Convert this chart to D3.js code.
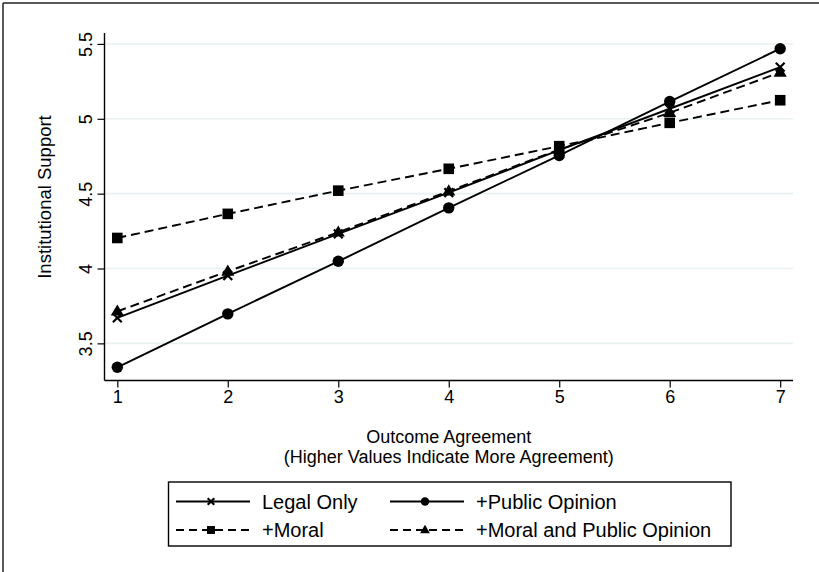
<!DOCTYPE html>
<html>
<head>
<meta charset="utf-8">
<script src="https://cdn.jsdelivr.net/npm/d3@7"></script>
<style>
  body { margin: 0; background: #fff; }
  text { font-family: "Liberation Sans", Arial, Helvetica, sans-serif; fill: #000; }
</style>
</head>
<body>
<svg id="chart" width="819" height="572"></svg>
<script>
// Outcome agreement levels (x axis)
const agreement = [1, 2, 3, 4, 5, 6, 7];

// Predicted institutional support for each model
const legalOnly        = [3.67, 3.953, 4.231, 4.507, 4.79, 5.067, 5.345];
const publicOpinion    = [3.34, 3.697, 4.048, 4.405, 4.755, 5.115, 5.468];
const moral            = [4.204, 4.365, 4.52, 4.666, 4.817, 4.973, 5.124];
const moralAndPublic   = [3.714, 3.981, 4.242, 4.516, 4.795, 5.04, 5.31];

const seriesNames = ["Legal Only", "+Public Opinion", "+Moral", "+Moral and Public Opinion"];
const yTickValues = [3.5, 4, 4.5, 5, 5.5];
const xTickValues = [1, 2, 3, 4, 5, 6, 7];

const xTitle = ["Outcome Agreement", "(Higher Values Indicate More Agreement)"];
const yTitle = "Institutional Support";

const series = [
  { name: seriesNames[0], values: legalOnly,      dash: null,  symbol: "x" },
  { name: seriesNames[1], values: publicOpinion,  dash: null,  symbol: "circle" },
  { name: seriesNames[2], values: moral,          dash: "9,5", symbol: "square" },
  { name: seriesNames[3], values: moralAndPublic, dash: "9,5", symbol: "triangle" }
];

const svg = d3.select("#chart");
const FONT = 18;
const LEGEND_FONT = 20;

// plot region
const plot = { left: 104.5, right: 793, top: 33, bottom: 380.5 };

const x = d3.scaleLinear().domain([0.884, 7.116]).range([plot.left, plot.right]);
const y = d3.scaleLinear().domain([3.252, 5.573]).range([plot.bottom, plot.top]);

// figure frame (top and left edges)
svg.append("line").attr("x1", 3).attr("x2", 819).attr("y1", 3).attr("y2", 3)
  .attr("stroke", "#222").attr("stroke-width", 1.5);
svg.append("line").attr("x1", 3).attr("x2", 3).attr("y1", 3).attr("y2", 572)
  .attr("stroke", "#222").attr("stroke-width", 1.5);

// horizontal grid lines
svg.append("g").selectAll("line").data(yTickValues).join("line")
  .attr("x1", plot.left).attr("x2", plot.right)
  .attr("y1", d => y(d)).attr("y2", d => y(d))
  .attr("stroke", "#e8f0f2").attr("stroke-width", 1.6);

// y axis
const yAxis = d3.axisLeft(y).tickValues(yTickValues).tickSize(7).tickFormat(d3.format("~g"));
const gy = svg.append("g").attr("transform", `translate(${plot.left},0)`).call(yAxis);
gy.select(".domain").attr("d", `M0,${plot.top}V${plot.bottom}`).attr("stroke", "#000").attr("stroke-width", 1.4);
gy.selectAll(".tick line").attr("stroke", "#000").attr("stroke-width", 1.2);
gy.selectAll(".tick text")
  .attr("font-size", FONT).attr("font-family", "Liberation Sans, Arial, sans-serif")
  .attr("x", 0).attr("dy", 0)
  .attr("text-anchor", "middle")
  .attr("transform", "translate(-13,0) rotate(-90)");

// x axis
const xAxis = d3.axisBottom(x).tickValues(xTickValues).tickSize(7).tickFormat(d3.format("d"));
const gx = svg.append("g").attr("transform", `translate(0,${plot.bottom})`).call(xAxis);
gx.select(".domain").attr("d", `M${plot.left},0H${plot.right}`).attr("stroke", "#000").attr("stroke-width", 1.4);
gx.selectAll(".tick line").attr("stroke", "#000").attr("stroke-width", 1.2);
gx.selectAll(".tick text")
  .attr("font-size", FONT).attr("font-family", "Liberation Sans, Arial, sans-serif")
  .attr("y", 10).attr("dy", "0.71em");

// axis titles
const xMid = (plot.left + plot.right) / 2;
svg.append("text").attr("x", xMid).attr("y", 443).attr("text-anchor", "middle")
  .attr("font-size", FONT).text(xTitle[0]);
svg.append("text").attr("x", xMid).attr("y", 463).attr("text-anchor", "middle")
  .attr("font-size", FONT).text(xTitle[1]);
svg.append("text")
  .attr("transform", `translate(51,197) rotate(-90)`)
  .attr("text-anchor", "middle").attr("font-size", 18.5).text(yTitle);

// marker drawing
function drawMarker(g, kind, cx, cy, s) {
  if (kind === "circle") {
    g.append("circle").attr("cx", cx).attr("cy", cy).attr("r", 5.7 * s).attr("fill", "#000");
  } else if (kind === "square") {
    const h = 5.3 * s;
    g.append("rect").attr("x", cx - h).attr("y", cy - h).attr("width", 2 * h).attr("height", 2 * h).attr("fill", "#000");
  } else if (kind === "triangle") {
    const r = 6.9 * s;
    g.append("path")
      .attr("d", `M${cx},${cy - r}L${cx + r * 0.95},${cy + r * 0.62}L${cx - r * 0.95},${cy + r * 0.62}Z`)
      .attr("fill", "#000");
  } else if (kind === "x") {
    const h = 4.4 * s;
    g.append("path")
      .attr("d", `M${cx - h},${cy - h}L${cx + h},${cy + h}M${cx - h},${cy + h}L${cx + h},${cy - h}`)
      .attr("stroke", "#000").attr("stroke-width", 2.2).attr("fill", "none");
  }
}

// series lines and markers
const line = d3.line().x((d, i) => x(agreement[i])).y(d => y(d));
const gSeries = svg.append("g");
series.forEach(s => {
  gSeries.append("path").datum(s.values)
    .attr("d", line)
    .attr("fill", "none").attr("stroke", "#000").attr("stroke-width", 1.9)
    .attr("stroke-dasharray", s.dash);
});
series.forEach(s => {
  const g = gSeries.append("g");
  s.values.forEach((v, i) => drawMarker(g, s.symbol, x(agreement[i]), y(v), 1));
});

// legend
const legend = svg.append("g");
legend.append("rect").attr("x", 168.5).attr("y", 482).attr("width", 562.5).attr("height", 64)
  .attr("fill", "#fff").attr("stroke", "#000").attr("stroke-width", 1.4);
const colX = [176, 390];
const rowY = [501.5, 530];
series.forEach((s, i) => {
  const cx = colX[i % 2], cy = rowY[Math.floor(i / 2)];
  legend.append("line").attr("x1", cx).attr("x2", cx + 74).attr("y1", cy).attr("y2", cy)
    .attr("stroke", "#000").attr("stroke-width", 1.9).attr("stroke-dasharray", s.dash ? "8,5" : null);
  drawMarker(legend, s.symbol, cx + 35, cy, 0.75);
  legend.append("text").attr("x", cx + 86).attr("y", cy + 7).attr("font-size", LEGEND_FONT).text(s.name);
});
</script>
</body>
</html>
